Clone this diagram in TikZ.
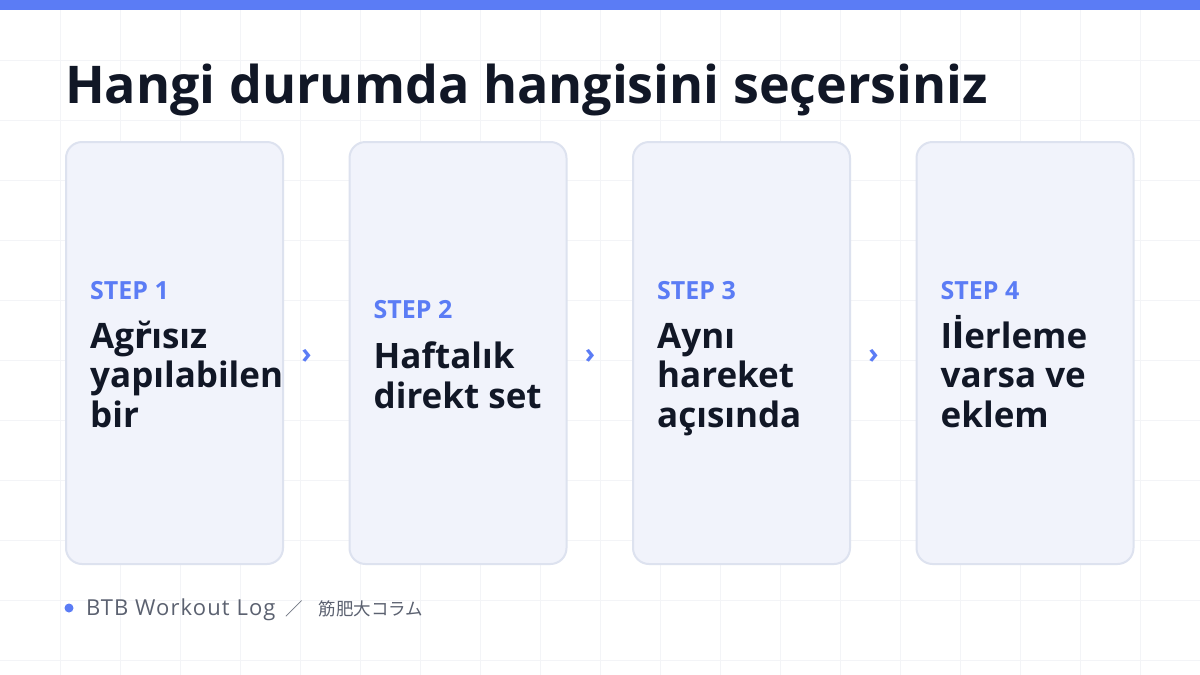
\documentclass[tikz,border=0pt]{standalone}
\usepackage{fontspec}
\setmainfont{Open Sans}
\newfontfamily\jpfont{Noto Sans CJK JP}
\newfontfamily\markfont{DejaVu Sans}
\usetikzlibrary{positioning, calc}

\definecolor{accent}{HTML}{5B7CF5}
\definecolor{ink}{HTML}{111726}
\definecolor{cardfill}{HTML}{F1F3FB}
\definecolor{cardline}{HTML}{DDE2EF}
\definecolor{gridline}{HTML}{F3F4F7}
\definecolor{muted}{HTML}{5B6170}

\tikzset{
	card/.style = {draw = cardline, line width = 2pt, fill = cardfill, rounded corners = 16pt,
		minimum width = 217pt, minimum height = 422pt, inner sep = 0pt},
	steplabel/.style = {text = accent, anchor = base west, inner sep = 0pt,
		font = \fontsize{25}{30}\selectfont\bfseries},
	body/.style = {text = ink, anchor = base west, inner sep = 0pt, align = left,
		font = \fontsize{35}{39.5}\selectfont\bfseries},
	chevron/.style = {text = accent, inner sep = 0pt, font = \fontsize{28}{28}\selectfont\bfseries}
}

\begin{document}
\begin{tikzpicture}[x = 1pt, y = -1pt]
	\useasboundingbox (0,0) rectangle (1200,675);
	\fill[white] (0,0) rectangle (1200,675);
	% faint grid
	\foreach \gx in {60,120,...,1140} \draw[gridline, line width = 1pt] (\gx,10) -- (\gx,675);
	\foreach \gy in {60,120,...,660} \draw[gridline, line width = 1pt] (0,\gy) -- (1200,\gy);
	\fill[accent] (0,0) rectangle (1200,9.5);

	\node[anchor = base west, inner sep = 0pt, text = ink, font = \fontsize{52}{60}\selectfont\bfseries]
		(title) at (65,103) {Hangi durumda hangisini seçersiniz};

	% the four steps (body nodes sit on their last line)
	\node[card] (card1) at (174.5,353) {};
	\node[card, right = 64.5pt of card1] (card2) {};
	\node[card, right = 64.5pt of card2] (card3) {};
	\node[card, right = 64.5pt of card3] (card4) {};

	\node[steplabel] (step1) at ($(card1.north west)+(25,158)$) {STEP 1};
	\node[body] (text1) at ($(card1.north west)+(25,286)$) {Ag{\markfont r̆}ısız\\yapılabilen\\bir};
	\node[steplabel] (step2) at ($(card2.north west)+(25,177)$) {STEP 2};
	\node[body] (text2) at ($(card2.north west)+(25,267)$) {Haftalık\\direkt set};
	\node[steplabel] (step3) at ($(card3.north west)+(25,158)$) {STEP 3};
	\node[body] (text3) at ($(card3.north west)+(25,286)$) {Aynı\\hareket\\açısında};
	\node[steplabel] (step4) at ($(card4.north west)+(25,158)$) {STEP 4};
	\node[body] (text4) at ($(card4.north west)+(25,286)$) {I{\markfont l̇}erleme\\varsa ve\\eklem};

	\node[chevron] (next1) at ($(card1.east)!0.35!(card2.west)+(0,3)$) {›};
	\node[chevron] (next2) at ($(card2.east)!0.35!(card3.west)+(0,3)$) {›};
	\node[chevron] (next3) at ($(card3.east)!0.35!(card4.west)+(0,3)$) {›};

	% footer
	\fill[accent] (69,608) circle (4.5);
	\node[anchor = base west, inner sep = 0pt, text = muted, font = \fontsize{22}{24}\selectfont\addfontfeatures{LetterSpace = 5}]
		(source) at (86,615) {BTB Workout Log{\jpfont\fontsize{17.5}{22}\selectfont\hspace{10pt}／\hspace{16pt}筋肥大コラム}};
\end{tikzpicture}
\end{document}
